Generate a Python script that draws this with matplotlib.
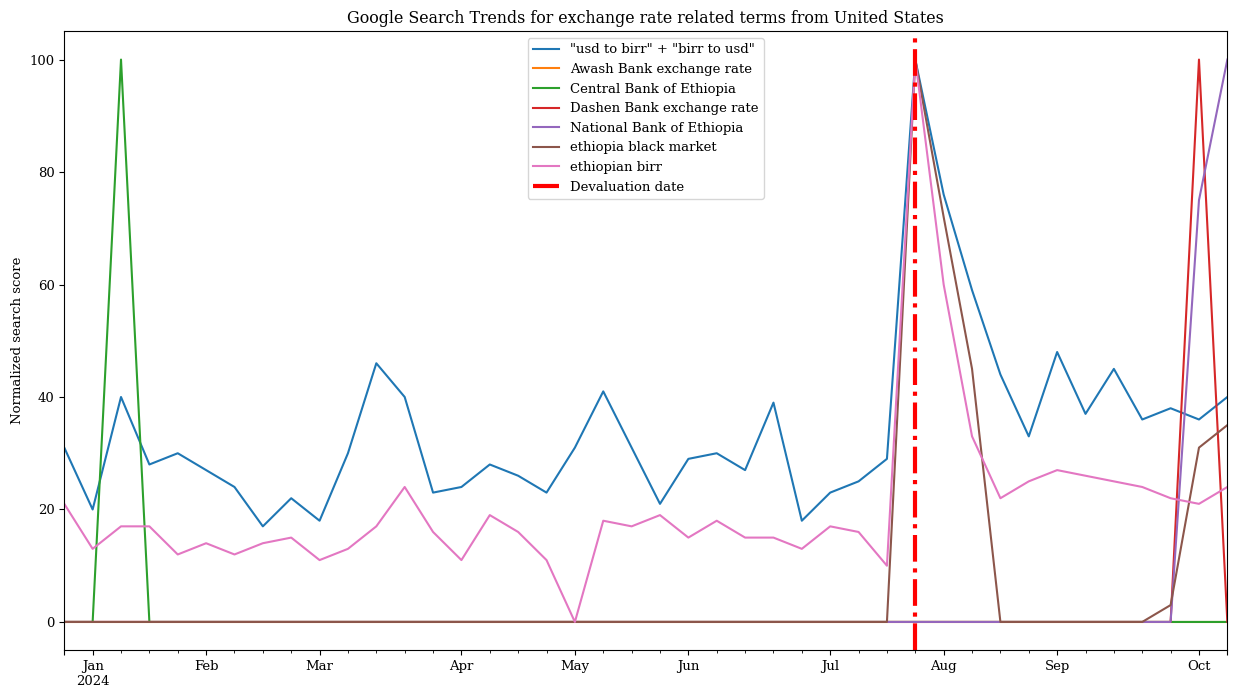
import matplotlib
matplotlib.use("Agg")
import matplotlib.pyplot as plt
import pandas as pd

plt.rcParams['font.family'] = ['DejaVu Serif']
plt.rcParams['font.size'] = 9.5

dates = pd.date_range('2023-12-31', periods=42, freq='W-SUN')

usd_birr = [31, 20, 40, 28, 30, 27, 24, 17, 22, 18, 30, 46, 40, 23, 24, 28, 26, 23, 31, 41, 31,
            21, 29, 30, 27, 39, 18, 23, 25, 29, 100, 76, 59, 44, 33, 48, 37, 45, 36, 38, 36, 40]
awash = [0] * 42
central = [0, 0, 100] + [0] * 39
dashen = [0] * 40 + [100, 0]
national = [0] * 40 + [75, 100]
black_market = [0] * 30 + [100, 72, 45] + [0] * 6 + [3, 31, 35]
birr = [21, 13, 17, 17, 12, 14, 12, 14, 15, 11, 13, 17, 24, 16, 11, 19, 16, 11, 0, 18, 17,
        19, 15, 18, 15, 15, 13, 17, 16, 10, 100, 60, 33, 22, 25, 27, 26, 25, 24, 22, 21, 24]
devaluation = pd.Timestamp('2024-07-28')

df = pd.DataFrame({
    '"usd to birr" + "birr to usd"': usd_birr,
    'Awash Bank exchange rate': awash,
    'Central Bank of Ethiopia': central,
    'Dashen Bank exchange rate': dashen,
    'National Bank of Ethiopia': national,
    'ethiopia black market': black_market,
    'ethiopian birr': birr,
}, index=dates)

fig, ax = plt.subplots(figsize=(12.36, 6.99), dpi=100)
df.plot(ax=ax)
ax.axvline(devaluation, color='red', linestyle='-.', linewidth=3, label='Devaluation date')
ax.set_title('Google Search Trends for exchange rate related terms from United States')
ax.set_ylabel('Normalized search score')
ax.set_xlabel('')
ax.legend(loc='upper center')
fig.subplots_adjust(left=0.052, right=0.993, top=0.955, bottom=0.07)
fig.savefig('out.png')
